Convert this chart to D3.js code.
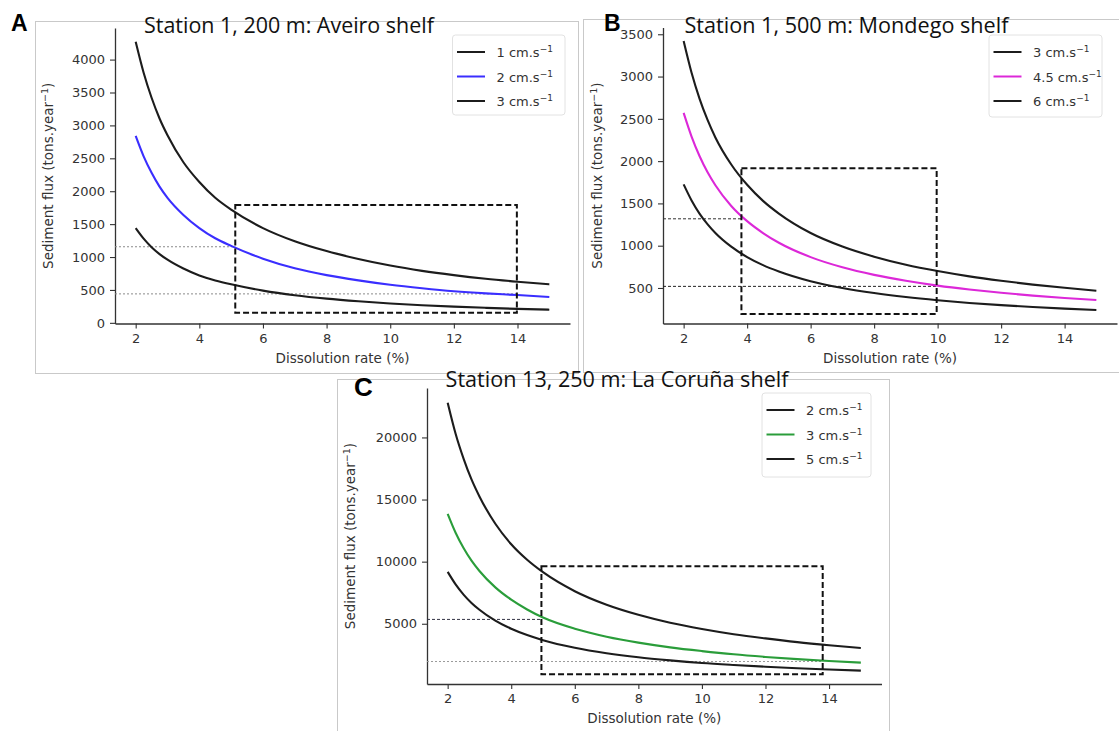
<!DOCTYPE html>
<html><head><meta charset="utf-8">
<script src="https://cdn.jsdelivr.net/npm/d3@7/dist/d3.min.js"></script>
<style>body{margin:0;background:#fff}</style></head>
<body>
<svg id="chart" width="1119" height="731"></svg>
<script>
// ---- data ----
const rates = [2, 2.25, 2.5, 2.75, 3, 3.5, 4, 4.5, 5, 6, 7, 8, 9, 10, 11, 12, 13, 14, 15];
const xTicks = [2, 4, 6, 8, 10, 12, 14];

// Panel A: Station 1, 200 m: Aveiro shelf
const aLabels = ["1", "2", "3"];
const aFlux1 = [4270, 3800, 3420, 3105, 2850, 2440, 2140, 1900, 1720, 1440, 1240, 1090, 970, 870, 790, 725, 670, 625, 585];
const aFlux2 = [2840, 2530, 2280, 2070, 1900, 1640, 1440, 1285, 1170, 975, 830, 725, 645, 578, 525, 480, 447, 422, 392];
const aFlux3 = [1440, 1280, 1150, 1045, 960, 825, 720, 645, 585, 490, 420, 368, 328, 295, 268, 246, 228, 212, 200];
const aYTicks = [0, 500, 1000, 1500, 2000, 2500, 3000, 3500, 4000];
const aBox = [5.13, 13.98, 155, 1790];      // x0, x1, y0, y1
const aRefs = [[1156, 5.13], [440, 13.98]]; // level, end rate

// Panel B: Station 1, 500 m: Mondego shelf
const bLabels = ["3", "4.5", "6"];
const bFlux1 = [3420, 3045, 2740, 2490, 2280, 1960, 1720, 1530, 1380, 1150, 990, 870, 775, 700, 637, 585, 540, 502, 468];
const bFlux2 = [2570, 2290, 2060, 1870, 1715, 1470, 1290, 1150, 1035, 865, 745, 655, 585, 528, 482, 443, 410, 382, 358];
const bFlux3 = [1725, 1535, 1380, 1255, 1150, 988, 865, 770, 695, 580, 500, 440, 393, 355, 323, 297, 275, 256, 240];
const bYTicks = [500, 1000, 1500, 2000, 2500, 3000, 3500];
const bBox = [3.82, 9.97, 192, 1915];
const bRefs = [[1318, 3.82], [519, 9.97]];

// Panel C: Station 13, 250 m: La Coruña shelf
const cLabels = ["2", "3", "5"];
const cFlux1 = [22800, 20300, 18300, 16620, 15250, 13050, 11400, 10150, 9150, 7620, 6530, 5720, 5080, 4580, 4160, 3820, 3520, 3270, 3050];
const cFlux2 = [13850, 12330, 11100, 10080, 9250, 7930, 6940, 6150, 5500, 4600, 3960, 3480, 3100, 2800, 2540, 2330, 2150, 2000, 1870];
const cFlux3 = [9180, 8170, 7350, 6680, 6130, 5250, 4600, 4090, 3680, 3070, 2630, 2300, 2050, 1840, 1680, 1540, 1420, 1320, 1230];
const cYTicks = [5000, 10000, 15000, 20000];
const cBox = [4.95, 13.8, 930, 9630];
const cRefs = [[5350, 4.95], [1960, 13.8]];

const titles = ["Station 1, 200 m: Aveiro shelf", "Station 1, 500 m: Mondego shelf", "Station 13, 250 m: La Coruña shelf"];
const letters = ["A", "B", "C"];

// ---- layout ----
const svg = d3.select("#chart");
const tickFont = "'DejaVu Sans', sans-serif";

const panels = [
  { letter: letters[0], title: titles[0], labels: aLabels, series: [aFlux1, aFlux2, aFlux3],
    colors: ["#1c1c1c", "#3a2eff", "#1c1c1c"], yTicks: aYTicks, box: aBox, refs: aRefs,
    refStyles: [{c: "#8a8a8a", d: "2,2"}, {c: "#8a8a8a", d: "2,2"}],
    frame: [35, 21, 543, 352], xr: [115, 570], yr: [323.5, 28], yd: [-10, 4480],
    leg: [452.5, 35, 112.5, 80], titleX: 144, titleY: 32.5, titleW: 290,
    letX: 11, letY: 31, letSize: 23, ylabX: 53 },
  { letter: letters[1], title: titles[1], labels: bLabels, series: [bFlux1, bFlux2, bFlux3],
    colors: ["#1c1c1c", "#dc28d8", "#1c1c1c"], yTicks: bYTicks, box: bBox, refs: bRefs,
    refStyles: [{c: "#333", d: "3,2"}, {c: "#222", d: "3,2"}],
    frame: [583, 19, 545, 353], xr: [663, 1117], yr: [323.5, 27.5], yd: [80, 3580],
    leg: [989, 35, 113, 82], titleX: 684.5, titleY: 32.5, titleW: 324,
    letX: 604, letY: 31, letSize: 23, ylabX: 602 },
  { letter: letters[2], title: titles[2], labels: cLabels, series: [cFlux1, cFlux2, cFlux3],
    colors: ["#1c1c1c", "#2a9d3a", "#1c1c1c"], yTicks: cYTicks, box: cBox, refs: cRefs,
    refStyles: [{c: "#334", d: "3,2"}, {c: "#9a9a9a", d: "2,2"}],
    frame: [337, 379, 552, 360], xr: [427, 881.5], yr: [684, 388], yd: [150, 23980],
    leg: [762, 393, 109, 84], titleX: 445.6, titleY: 387, titleW: 343,
    letX: 354, letY: 396, letSize: 26, ylabX: 355 }
];

panels.forEach(p => {
  const g = svg.append("g");
  // frame
  g.append("rect").attr("x", p.frame[0] + 0.5).attr("y", p.frame[1] + 0.5)
    .attr("width", p.frame[2]).attr("height", p.frame[3])
    .attr("fill", "#fff").attr("stroke", "#c9c9c9").attr("stroke-width", 1);

  const x = d3.scaleLinear().domain([1.35, 15.65]).range(p.xr);
  const y = d3.scaleLinear().domain(p.yd).range(p.yr);

  // axes
  const xa = g.append("g").attr("transform", `translate(0,${p.yr[0]})`)
    .call(d3.axisBottom(x).tickValues(xTicks).tickSize(5).tickSizeOuter(0).tickPadding(5).tickFormat(d3.format("d")));
  const ya = g.append("g").attr("transform", `translate(${p.xr[0]},0)`)
    .call(d3.axisLeft(y).tickValues(p.yTicks).tickSize(5).tickSizeOuter(0).tickPadding(5).tickFormat(d3.format("d")));
  [xa, ya].forEach(a => {
    a.select(".domain").attr("stroke", "#333").attr("stroke-width", 1.3);
    a.selectAll(".tick line").attr("stroke", "#333").attr("stroke-width", 1.1);
    a.selectAll(".tick text").attr("fill", "#333").style("font-family", tickFont).style("font-size", "13px");
  });

  // axis labels
  g.append("text").attr("x", (p.xr[0] + p.xr[1]) / 2).attr("y", p.yr[0] + 39)
    .attr("text-anchor", "middle").attr("fill", "#333")
    .style("font-family", tickFont).style("font-size", "13.5px").text("Dissolution rate (%)");
  const yl = g.append("text").attr("transform", `translate(${p.ylabX},${(p.yr[0] + p.yr[1]) / 2}) rotate(-90)`)
    .attr("text-anchor", "middle").attr("fill", "#333")
    .style("font-family", tickFont).style("font-size", "13.5px");
  yl.append("tspan").text("Sediment flux (tons.year");
  yl.append("tspan").attr("baseline-shift", "super").style("font-size", "9.5px").text("−1");
  yl.append("tspan").text(")");

  // reference dotted lines
  p.refs.forEach((r, i) => {
    g.append("line").attr("x1", p.xr[0]).attr("x2", x(r[1]))
      .attr("y1", y(r[0])).attr("y2", y(r[0]))
      .attr("stroke", p.refStyles[i].c).attr("stroke-width", 1).attr("stroke-dasharray", p.refStyles[i].d);
  });

  // curves
  const line = d3.line().x((d, i) => x(rates[i])).y(d => y(d)).curve(d3.curveMonotoneX);
  p.series.forEach((s, i) => {
    g.append("path").datum(s).attr("d", line).attr("fill", "none")
      .attr("stroke", p.colors[i]).attr("stroke-width", 2.1);
  });

  // dashed box
  g.append("rect").attr("x", x(p.box[0])).attr("y", y(p.box[3]))
    .attr("width", x(p.box[1]) - x(p.box[0])).attr("height", y(p.box[2]) - y(p.box[3]))
    .attr("fill", "none").attr("stroke", "#111").attr("stroke-width", 2).attr("stroke-dasharray", "6,3");

  // legend
  const [lx, ly, lw, lh] = p.leg;
  g.append("rect").attr("x", lx).attr("y", ly).attr("width", lw).attr("height", lh).attr("rx", 3)
    .attr("fill", "#fff").attr("stroke", "#e2e2e2").attr("stroke-width", 1);
  p.labels.forEach((lab, i) => {
    const ry = ly + 17 + i * 24.5;
    g.append("line").attr("x1", lx + 4.5).attr("x2", lx + 32.5).attr("y1", ry).attr("y2", ry)
      .attr("stroke", p.colors[i]).attr("stroke-width", 2);
    const t = g.append("text").attr("x", lx + 44).attr("y", ry + 5).attr("fill", "#333")
      .style("font-family", tickFont).style("font-size", "13px");
    t.append("tspan").text(lab + " cm.s");
    t.append("tspan").attr("baseline-shift", "super").style("font-size", "9px").text("−1");
  });

  // title, fitted to measured width
  const tt = svg.append("text").attr("x", p.titleX).attr("y", p.titleY).attr("fill", "#111")
    .style("font-family", "'Open Sans', sans-serif").style("font-size", "20px").text(p.title);
  const w = tt.node().getComputedTextLength();
  tt.style("font-size", (20 * p.titleW / w).toFixed(2) + "px");

  // panel letter
  svg.append("text").attr("x", p.letX).attr("y", p.letY).attr("fill", "#000")
    .style("font-family", "'Liberation Sans', Arial, sans-serif").style("font-weight", "bold")
    .style("font-size", p.letSize + "px").text(p.letter);
});
</script>
</body></html>
